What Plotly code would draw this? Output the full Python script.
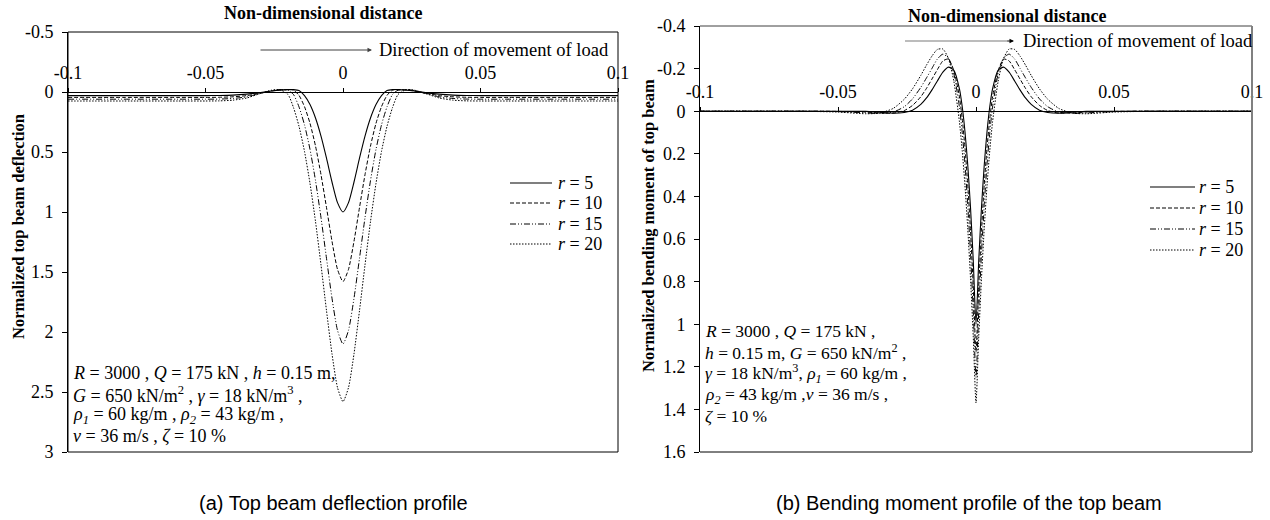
import plotly.graph_objects as go

# ---------------------------------------------------------------- data
X_TICKS = [-0.1, -0.05, 0, 0.05, 0.1]
X_TICK_TEXT = ["-0.1", "-0.05", "0", "0.05", "0.1"]
DEFL_TICKS = [-0.5, 0, 0.5, 1, 1.5, 2, 2.5, 3]
DEFL_TICK_TEXT = ["-0.5", "0", "0.5", "1", "1.5", "2", "2.5", "3"]
MOM_TICKS = [-0.4, -0.2, 0, 0.2, 0.4, 0.6, 0.8, 1, 1.2, 1.4, 1.6]
MOM_TICK_TEXT = ["-0.4", "-0.2", "0", "0.2", "0.4", "0.6", "0.8", "1", "1.2", "1.4", "1.6"]

SERIES = ["r = 5", "r = 10", "r = 15", "r = 20"]

# (a) normalized top beam deflection
DEFL_X = [-0.1, -0.08, -0.06, -0.05, -0.045, -0.04, -0.035, -0.03, -0.026, -0.023,
          -0.02, -0.018, -0.016, -0.014, -0.012, -0.01, -0.008, -0.006, -0.004, -0.002,
          0,
          0.002, 0.004, 0.006, 0.008, 0.01, 0.012, 0.014, 0.016, 0.018, 0.02,
          0.023, 0.026, 0.03, 0.035, 0.04, 0.045, 0.05, 0.06, 0.08, 0.1]
DEFL_R5 = [0.030, 0.030, 0.030, 0.030, 0.029, 0.026, 0.018, 0.005, -0.008, -0.016,
           -0.020, -0.020, -0.012, 0.030, 0.105, 0.217, 0.368, 0.552, 0.750, 0.922,
           1.000,
           0.922, 0.750, 0.552, 0.368, 0.217, 0.105, 0.030, -0.012, -0.020, -0.020,
           -0.016, -0.008, 0.005, 0.018, 0.026, 0.029, 0.030, 0.030, 0.030, 0.030]
DEFL_R10 = [0.045, 0.045, 0.045, 0.045, 0.044, 0.040, 0.030, 0.010, -0.008, -0.018,
            -0.020, -0.015, 0.028, 0.122, 0.261, 0.450, 0.689, 0.963, 1.244, 1.478,
            1.580,
            1.478, 1.244, 0.963, 0.689, 0.450, 0.261, 0.122, 0.028, -0.015, -0.020,
            -0.018, -0.008, 0.010, 0.030, 0.040, 0.044, 0.045, 0.045, 0.045, 0.045]
DEFL_R15 = [0.060, 0.060, 0.060, 0.060, 0.059, 0.054, 0.040, 0.012, -0.012, -0.020,
            -0.015, 0.021, 0.124, 0.274, 0.478, 0.738, 1.047, 1.386, 1.719, 1.986,
            2.100,
            1.986, 1.719, 1.386, 1.047, 0.738, 0.478, 0.274, 0.124, 0.021, -0.015,
            -0.020, -0.012, 0.012, 0.040, 0.054, 0.059, 0.060, 0.060, 0.060, 0.060]
DEFL_R20 = [0.075, 0.075, 0.075, 0.075, 0.074, 0.068, 0.050, 0.012, -0.015, -0.020,
            0.021, 0.130, 0.286, 0.495, 0.761, 1.079, 1.441, 1.822, 2.182, 2.463,
            2.580,
            2.463, 2.182, 1.822, 1.441, 1.079, 0.761, 0.495, 0.286, 0.130, 0.021,
            -0.020, -0.015, 0.012, 0.050, 0.068, 0.074, 0.075, 0.075, 0.075, 0.075]

# (b) normalized bending moment of the top beam
MOM_X = [-0.1, -0.08, -0.06, -0.05, -0.04, -0.035, -0.03, -0.026, -0.023, -0.02,
         -0.018, -0.016, -0.014, -0.012, -0.01, -0.008, -0.006, -0.005, -0.004, -0.003,
         -0.002, -0.001,
         0,
         0.001, 0.002, 0.003, 0.004, 0.005, 0.006, 0.008, 0.01, 0.012, 0.014,
         0.016, 0.018, 0.02, 0.023, 0.026, 0.03, 0.035, 0.04, 0.05, 0.06, 0.08, 0.1]
MOM_R5 = [0, 0, 0, 0, 0.001, 0.005, 0.009, 0.006, -0.005, -0.032,
          -0.061, -0.099, -0.142, -0.183, -0.207, -0.192, -0.105, -0.022, 0.095, 0.250,
          0.450, 0.699,
          1.000,
          0.699, 0.450, 0.250, 0.095, -0.022, -0.105, -0.192, -0.207, -0.183, -0.142,
          -0.099, -0.061, -0.032, -0.005, 0.006, 0.009, 0.005, 0.001, 0, 0, 0, 0]
MOM_R10 = [0, 0, 0, 0.001, 0.004, 0.008, 0.009, -0.003, -0.027, -0.068,
           -0.106, -0.150, -0.195, -0.236, -0.245, -0.190, -0.067, 0.035, 0.170, 0.343,
           0.559, 0.820,
           1.130,
           0.820, 0.559, 0.343, 0.170, 0.035, -0.067, -0.190, -0.245, -0.236, -0.195,
           -0.150, -0.106, -0.068, -0.027, -0.003, 0.009, 0.008, 0.004, 0.001, 0, 0, 0]
MOM_R15 = [0, 0, 0, 0.002, 0.008, 0.011, 0.004, -0.021, -0.058, -0.112,
           -0.155, -0.200, -0.245, -0.268, -0.250, -0.174, -0.019, 0.099, 0.250, 0.438,
           0.665, 0.935,
           1.250,
           0.935, 0.665, 0.438, 0.250, 0.099, -0.019, -0.174, -0.250, -0.268, -0.245,
           -0.200, -0.155, -0.112, -0.058, -0.021, 0.004, 0.011, 0.008, 0.002, 0, 0, 0]
MOM_R20 = [0, 0, 0.001, 0.004, 0.012, 0.009, -0.013, -0.056, -0.105, -0.168,
           -0.215, -0.258, -0.290, -0.292, -0.248, -0.139, 0.050, 0.184, 0.349, 0.547,
           0.782, 1.056,
           1.370,
           1.056, 0.782, 0.547, 0.349, 0.184, 0.050, -0.139, -0.248, -0.292, -0.290,
           -0.258, -0.215, -0.168, -0.105, -0.056, -0.013, 0.009, 0.012, 0.004, 0.001, 0, 0]

DEFL = [DEFL_R5, DEFL_R10, DEFL_R15, DEFL_R20]
MOM = [MOM_R5, MOM_R10, MOM_R15, MOM_R20]

# ---------------------------------------------------------------- styling
W, H = 1270, 520
SERIF = "Liberation Serif, Times New Roman, serif"
SANS = "Liberation Sans, Arial, sans-serif"
DASHES = ["solid", "4px,2px", "6px,2px,1px,2px,1px,2px", "1.5px,1.5px"]
WIDTHS = [1.1, 1, 1, 1]


def fx(p):
    return p / W


def fy(p):
    return 1 - p / H


L_DOM_X = [fx(68), fx(618)]
L_DOM_Y = [fy(452), fy(32)]
R_DOM_X = [fx(700), fx(1252)]
R_DOM_Y = [fy(452), fy(26)]

L_RANGE = [3, -0.5]
R_RANGE = [1.6, -0.4]


def zero_pos(dom, rng):
    frac = (rng[0] - 0) / (rng[0] - rng[1])
    return dom[0] + (dom[1] - dom[0]) * frac


fig = go.Figure()

for i, name in enumerate(SERIES):
    line = dict(color="black", width=WIDTHS[i], dash=DASHES[i], shape="spline", smoothing=0.6)
    fig.add_trace(go.Scatter(x=DEFL_X, y=DEFL[i], mode="lines", line=line, name=name,
                             xaxis="x", yaxis="y", showlegend=False, hoverinfo="skip"))
    fig.add_trace(go.Scatter(x=MOM_X, y=MOM[i], mode="lines", line=line, name=name,
                             xaxis="x2", yaxis="y2", showlegend=False, hoverinfo="skip"))

tick_font = dict(family=SERIF, size=18, color="black")


def x_axis(dom, pos):
    return dict(domain=dom, range=[-0.1, 0.1], anchor="free", position=pos, side="top",
                showline=True, linecolor="black", linewidth=1, ticks="outside", ticklen=4,
                tickcolor="black", tickvals=X_TICKS, ticktext=X_TICK_TEXT, tickfont=tick_font,
                showgrid=False, zeroline=False, ticklabelstandoff=2, automargin=False)


def y_axis(dom, rng, vals, text, anchor):
    return dict(domain=dom, range=rng, anchor=anchor, showline=True, linecolor="black",
                linewidth=1, ticks="outside", ticklen=5, tickcolor="black", tickvals=vals,
                ticktext=text, tickfont=tick_font, showgrid=False, zeroline=False,
                ticklabelstandoff=5, automargin=False)


shapes = [
    # frame of panel (a)
    dict(type="rect", xref="x domain", yref="y domain", x0=0, x1=1, y0=0, y1=1,
         line=dict(color="black", width=1), layer="below"),
    # frame of panel (b)
    dict(type="line", xref="x2 domain", yref="y2 domain", x0=0, x1=1, y0=1, y1=1,
         line=dict(color="#404040", width=1)),
    dict(type="line", xref="x2 domain", yref="y2 domain", x0=0, x1=1, y0=0, y1=0,
         line=dict(color="black", width=1)),
    dict(type="line", xref="x2 domain", yref="y2 domain", x0=1, x1=1, y0=0, y1=1,
         line=dict(color="#808080", width=2)),
    # direction arrow shaft, panel (b)
    dict(type="line", xref="paper", yref="paper", x0=fx(905), x1=fx(1008), y0=fy(41), y1=fy(41),
         line=dict(color="#a6a6a6", width=1.5)),
]

annotations = []


def text(x, y, s, size=18, family=SERIF, xanchor="left", angle=0):
    annotations.append(dict(x=fx(x), y=fy(y), xref="paper", yref="paper", text=s,
                            showarrow=False, xanchor=xanchor, yanchor="middle",
                            textangle=angle, borderpad=0,
                            font=dict(family=family, size=size, color="black")))


# axis titles
text(323, 13, "<b>Non-dimensional distance</b>", size=18, xanchor="center")
text(1007, 16, "<b>Non-dimensional distance</b>", size=18, xanchor="center")
text(18, 227, "<b>Normalized top beam deflection</b>", size=16.5, xanchor="center", angle=-90)
text(648, 226, "<b>Normalized bending moment of top beam</b>", size=16.5, xanchor="center", angle=-90)

# direction of load
annotations.append(dict(x=fx(372), y=fy(50), xref="paper", yref="paper", text="",
                        showarrow=True, ax=-113, ay=0, arrowhead=2, arrowsize=0.9,
                        arrowwidth=1, arrowcolor="#404040", standoff=0))
annotations.append(dict(x=fx(1014), y=fy(41), xref="paper", yref="paper", text="",
                        showarrow=True, ax=-8, ay=0, arrowhead=2, arrowsize=0.9,
                        arrowwidth=1, arrowcolor="black", standoff=0))
text(378, 50, "Direction of movement of load", size=18.5)
text(1022, 41, "Direction of movement of load", size=18.5)

# legends
L_ROWS = [183, 203, 224, 244]
R_ROWS = [187, 208, 229, 250]
for i, name in enumerate(SERIES):
    label = "<i>r</i>" + name[1:]
    for x0, x1, xt, y in ((510, 552, 557, L_ROWS[i]), (1150, 1195, 1198, R_ROWS[i])):
        shapes.append(dict(type="line", xref="paper", yref="paper", x0=fx(x0), x1=fx(x1),
                           y0=fy(y), y1=fy(y),
                           line=dict(color="black", width=WIDTHS[i], dash=DASHES[i])))
        text(xt, y, label)

# parameter notes
L_NOTES = [
    "<i>R</i> = 3000 , <i>Q</i> = 175 kN , <i>h</i> = 0.15 m,",
    "<i>G</i> = 650 kN/m<sup>2</sup> , <i>γ</i> = 18 kN/m<sup>3</sup> ,",
    "<i>ρ<sub>1</sub></i> = 60 kg/m , <i>ρ<sub>2</sub></i> = 43 kg/m ,",
    "<i>v</i> = 36 m/s , <i>ζ</i> = 10 %",
]
R_NOTES = [
    "<i>R</i> = 3000 , <i>Q</i> = 175 kN ,",
    "<i>h</i> = 0.15 m, <i>G</i> = 650 kN/m<sup>2</sup> ,",
    "<i>γ</i> = 18 kN/m<sup>3</sup>, <i>ρ<sub>1</sub></i> = 60 kg/m ,",
    "<i>ρ<sub>2</sub></i> = 43 kg/m ,<i>v</i> = 36 m/s ,",
    "<i>ζ</i> = 10 %",
]
R_NOTE_ROWS = [331, 352, 373, 395, 416]
for k, s in enumerate(L_NOTES):
    text(72, 373 + 21 * k, s)
for k, s in enumerate(R_NOTES):
    text(704, R_NOTE_ROWS[k], s, size=17.5)

# captions
text(198, 503, "(a) Top beam deflection profile", size=20, family=SANS)
text(775, 503, "(b) Bending moment profile of the top beam", size=20, family=SANS)

fig.update_layout(
    width=W, height=H,
    margin=dict(l=0, r=0, t=0, b=0),
    paper_bgcolor="white", plot_bgcolor="white",
    showlegend=False,
    xaxis=x_axis(L_DOM_X, zero_pos(L_DOM_Y, L_RANGE)),
    yaxis=y_axis(L_DOM_Y, L_RANGE, DEFL_TICKS, DEFL_TICK_TEXT, "x"),
    xaxis2=x_axis(R_DOM_X, zero_pos(R_DOM_Y, R_RANGE)),
    yaxis2=y_axis(R_DOM_Y, R_RANGE, MOM_TICKS, MOM_TICK_TEXT, "x2"),
    shapes=shapes,
    annotations=annotations,
)

fig.write_html("out.html")
